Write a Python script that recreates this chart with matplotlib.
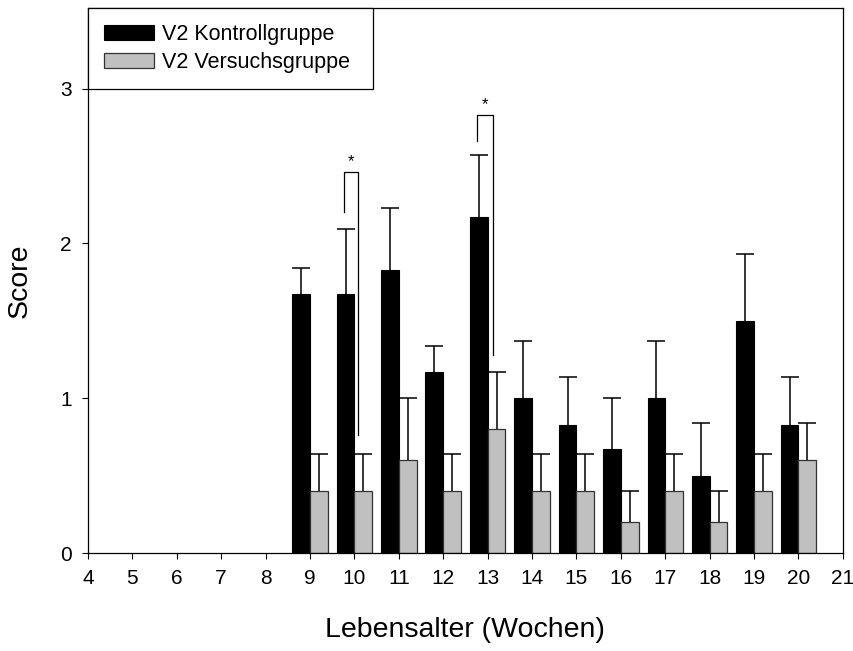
import numpy as np
import matplotlib
matplotlib.use("Agg")
import matplotlib.pyplot as plt

# Weekly scores, control vs. treatment group
weeks = [9, 10, 11, 12, 13, 14, 15, 16, 17, 18, 19, 20]
kontroll = [1.67, 1.67, 1.83, 1.17, 2.17, 1.00, 0.83, 0.67, 1.00, 0.50, 1.50, 0.83]
kontroll_err = [0.17, 0.42, 0.40, 0.17, 0.40, 0.37, 0.31, 0.33, 0.37, 0.34, 0.43, 0.31]
versuch = [0.40, 0.40, 0.60, 0.40, 0.80, 0.40, 0.40, 0.20, 0.40, 0.20, 0.40, 0.60]
versuch_err = [0.24, 0.24, 0.40, 0.24, 0.37, 0.24, 0.24, 0.20, 0.24, 0.20, 0.24, 0.24]

# significance brackets: (left x, right x, top y, left leg end, right leg end)
brackets = [
    (9.77, 10.08, 2.46, 2.20, 0.76),
    (12.76, 13.12, 2.83, 2.66, 1.28),
]

plt.rcParams['font.family'] = ['Liberation Sans', 'DejaVu Sans']

fig = plt.figure(figsize=(8.54, 6.51), dpi=100)
ax = fig.add_axes([0.103, 0.1505, 0.884, 0.8372])

x = np.array(weeks)
w = 0.4
ax.bar(x - w, kontroll, width=w, align='edge', color='black',
       edgecolor='black', linewidth=0.8, zorder=2, label='V2 Kontrollgruppe')
ax.bar(x, versuch, width=w, align='edge', color='#c0c0c0',
       edgecolor='#333333', linewidth=0.9, zorder=2, label='V2 Versuchsgruppe')


def upper_err(xs, ys, errs):
    # stem from bar top up to mean + error, with a cap only at the top
    tops = np.array(ys) + np.array(errs)
    ax.vlines(xs, ys, tops, color='black', lw=1.1, zorder=1)
    ax.plot(xs, tops, ls='none', marker='_', ms=12.5, mew=1.1,
            color='black', zorder=1)


upper_err(x - w / 2, kontroll, kontroll_err)
upper_err(x + w / 2, versuch, versuch_err)

for x0, x1, top, y0, y1 in brackets:
    ax.plot([x0, x0, x1, x1], [y0, top, top, y1], color='black', lw=0.9, zorder=3)
    ax.text((x0 + x1) / 2, top + 0.02, '*', ha='center', va='bottom', fontsize=12)

ax.set_xlim(4, 21)
ax.set_ylim(0, 3.52)
ax.set_xticks(range(4, 22))
ax.set_yticks([0, 1, 2, 3])
ax.tick_params(axis='both', direction='out', length=4.5, width=0.8,
               labelsize=15, pad=7)
ax.tick_params(top=False, right=False)
for sp in ax.spines.values():
    sp.set_linewidth(0.9)

ax.set_xlabel('Lebensalter (Wochen)', fontsize=20.5, labelpad=21)
ax.set_ylabel('Score', fontsize=20.5, labelpad=20)

leg = ax.legend(loc='upper left', bbox_to_anchor=(0.0, 0.0, 0.377, 1.0),
                mode='expand', borderaxespad=0, fontsize=15.5,
                handlelength=2.3, handleheight=0.7, handletextpad=0.4,
                labelspacing=0.33, borderpad=0.75, fancybox=False,
                framealpha=1, edgecolor='black')
leg.get_frame().set_linewidth(0.9)

fig.savefig('out.png', dpi=100)
